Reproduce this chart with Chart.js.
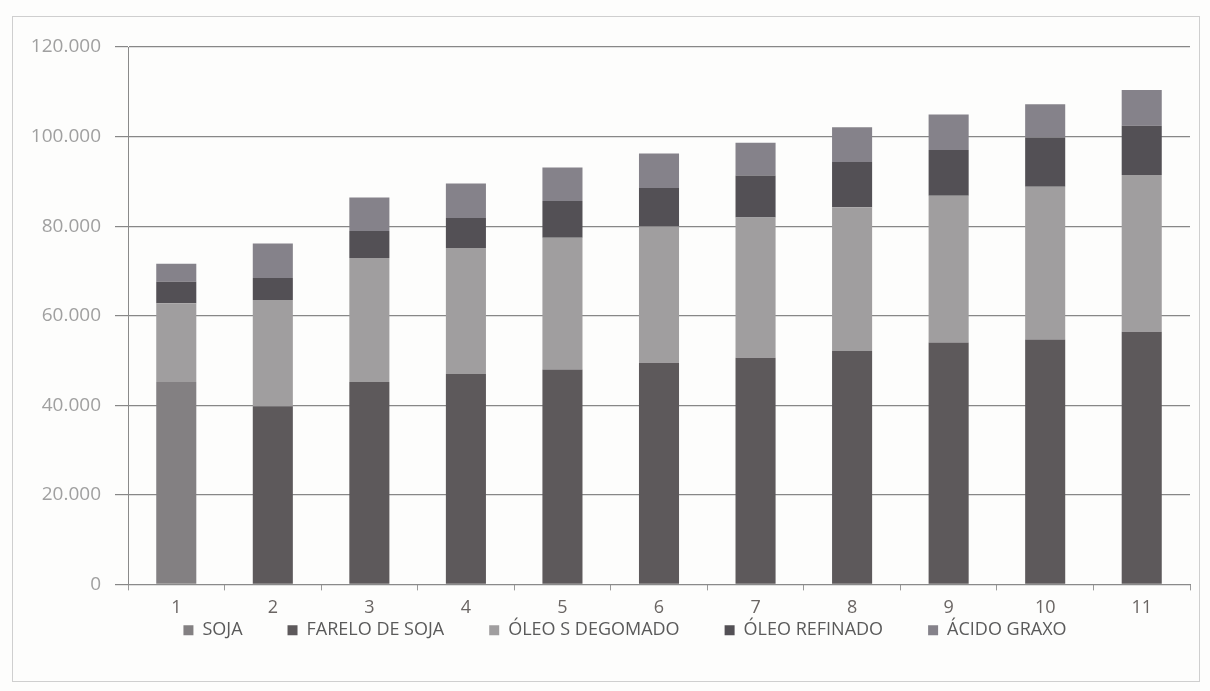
<!DOCTYPE html>
<html>
<head>
<meta charset="utf-8">
<script src="https://cdn.jsdelivr.net/npm/chart.js@4.4.1/dist/chart.umd.min.js"></script>
<style>
  html, body { margin: 0; padding: 0; background: #fdfdfc; }
  #wrap { position: relative; width: 1210px; height: 691px; }
  #frame { position: absolute; left: 12px; top: 16px; width: 1188px; height: 666px; border: 1px solid #cfcfcf; box-sizing: border-box; pointer-events: none; }
  canvas { display: block; }
</style>
</head>
<body>
<div id="wrap">
  <canvas id="c" width="1210" height="691"></canvas>
  <div id="frame"></div>
</div>
<script>
// Categories (periods)
const categories = ['1', '2', '3', '4', '5', '6', '7', '8', '9', '10', '11'];

// Series values
const soja          = [45200, 0, 0, 0, 0, 0, 0, 0, 0, 0, 0];
const fareloDeSoja  = [0, 39800, 45200, 47000, 48000, 49500, 50600, 52100, 54000, 54700, 56400];
const oleoDegomado  = [17600, 23700, 27700, 28100, 29400, 30400, 31300, 32100, 32800, 34100, 35000];
const oleoRefinado  = [4800, 4900, 6000, 6700, 8200, 8600, 9400, 10100, 10200, 11000, 11000];
const acidoGraxo    = [4000, 7700, 7500, 7700, 7500, 7700, 7300, 7800, 7900, 7400, 8000];

// Series names
const seriesNames = ['SOJA', 'FARELO DE SOJA', 'ÓLEO S DEGOMADO', 'ÓLEO REFINADO', 'ÁCIDO GRAXO'];

// Y axis ticks
const yTicks = [0, 20000, 40000, 60000, 80000, 100000, 120000];

const colors = ['#838082', '#5d595b', '#a09e9f', '#535055', '#85828a'];
const seriesData = [soja, fareloDeSoja, oleoDegomado, oleoRefinado, acidoGraxo];

function fmt(v) {
  return String(v).replace(/\B(?=(\d{3})+(?!\d))/g, '.');
}

// Keep the legend compact in the layout and place its row just under the x labels
const LEGEND_TEXT_Y = 632;
const LEGEND_SHIFT_X = 30;
const legendPlace = {
  id: 'legendPlace',
  beforeLayout(chart) {
    const lg = chart.legend;
    if (lg && !lg._placed) {
      const orig = lg.fit.bind(lg);
      lg.fit = function () { orig(); this.height = 10; };
      lg._placed = true;
    }
  },
  afterLayout(chart) {
    const lg = chart.legend;
    if (!lg) return;
    const pad = lg.options.labels.padding;
    const fs = lg.options.labels.font.size;
    lg.top = LEGEND_TEXT_Y - pad - fs * 0.6;
    lg.height = pad + fs * 2 + 10;
    lg.bottom = lg.top + lg.height;
    lg.left += LEGEND_SHIFT_X;
    lg.right += LEGEND_SHIFT_X;
  }
};

new Chart(document.getElementById('c'), {
  type: 'bar',
  data: {
    labels: categories,
    datasets: seriesNames.map((name, i) => ({
      label: name,
      data: seriesData[i],
      backgroundColor: colors[i],
      borderWidth: 0,
      barPercentage: 0.415,
      categoryPercentage: 1.0
    }))
  },
  plugins: [legendPlace],
  options: {
    responsive: false,
    animation: false,
    layout: { padding: { top: 47, right: 20, bottom: 55, left: 0 } },
    plugins: {
      legend: {
        position: 'bottom',
        labels: {
          boxWidth: 10,
          boxHeight: 10,
          padding: 45,
          color: '#5a5a5a',
          font: { family: 'Open Sans', size: 18 }
        }
      },
      tooltip: { enabled: false }
    },
    scales: {
      x: {
        stacked: true,
        offset: true,
        grid: {
          offset: true,
          drawOnChartArea: false,
          drawTicks: true,
          tickLength: 6,
          color: '#9a9a9a'
        },
        border: { color: '#8a8a8a', width: 1 },
        ticks: { color: '#6a6563', font: { family: 'Open Sans', size: 18 }, padding: 7 }
      },
      y: {
        stacked: true,
        min: 0,
        max: 120000,
        afterBuildTicks: (scale) => { scale.ticks = yTicks.map(v => ({ value: v })); },
        afterFit: (scale) => { scale.width = 128; },
        grid: {
          color: '#878787',
          lineWidth: 1.2,
          drawTicks: true,
          tickLength: 13
        },
        border: { color: '#8a8a8a', width: 1 },
        ticks: {
          color: '#a0a0a0',
          padding: 14,
          font: { family: 'Open Sans', size: 19 },
          callback: (v) => fmt(v)
        }
      }
    }
  }
});
</script>
</body>
</html>
